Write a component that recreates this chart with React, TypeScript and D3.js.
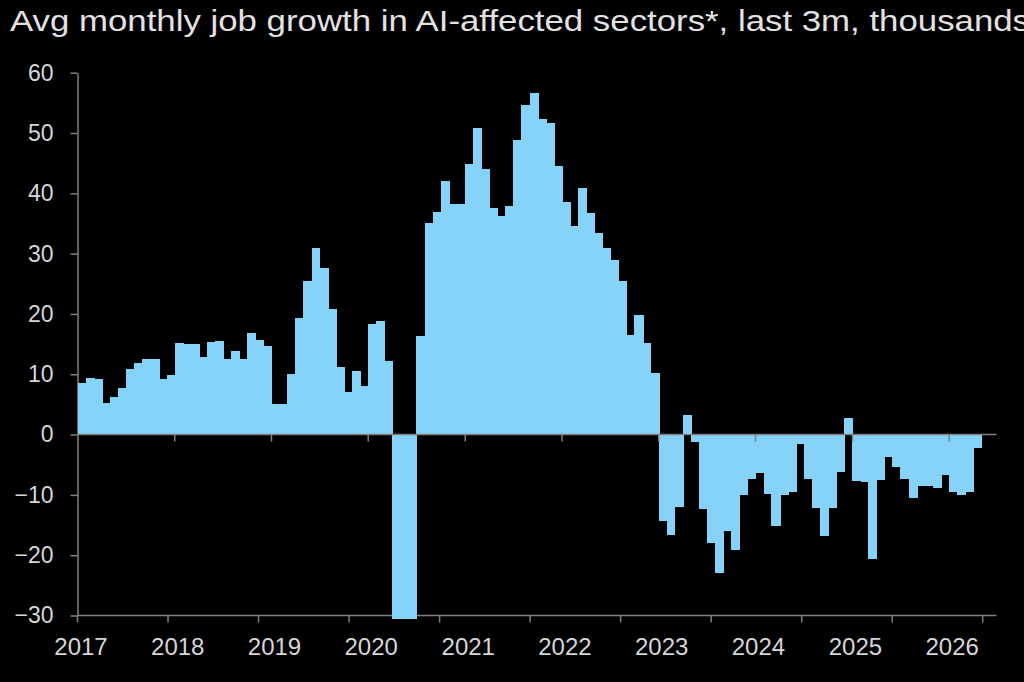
import { useEffect, useRef } from "react";
import * as d3 from "d3";

// 3m avg monthly job growth, thousands, one value per month from Jan 2017
const v2017 = [8.6, 9.3, 9.2, 5.3, 6.2, 7.8, 10.8, 11.9, 12.6, 12.5, 9.2, 9.9];
const v2018 = [15.1, 15.0, 15.0, 12.8, 15.3, 15.5, 12.5, 13.9, 12.6, 16.8, 15.7, 14.7];
const v2019 = [5.1, 5.1, 10.0, 19.3, 25.5, 31.0, 27.7, 20.8, 11.2, 7.0, 10.6, 8.1];
const v2020 = [18.3, 18.8, 12.2, -30.5, -30.5, -30.5, 16.3, 35.1, 36.9, 42.1, 38.3, 38.3];
const v2021 = [44.8, 50.9, 44.1, 37.5, 36.2, 37.9, 48.9, 54.6, 56.7, 52.4, 51.7, 44.5];
const v2022 = [38.6, 34.5, 40.8, 36.8, 33.5, 30.9, 28.9, 25.5, 16.5, 19.9, 15.1, 10.2];
const v2023 = [-14.3, -16.7, -12.0, 3.3, -1.2, -12.3, -17.9, -23.0, -16.0, -19.2, -10.0, -7.4];
const v2024 = [-6.3, -9.8, -15.2, -10.0, -9.5, -1.5, -7.3, -12.1, -16.8, -12.2, -6.2, 2.7];
const v2025 = [-7.7, -7.8, -20.7, -7.5, -3.8, -5.3, -7.4, -10.6, -8.5, -8.5, -8.8, -6.7];
const v2026 = [-9.5, -10.0, -9.5, -2.3];

const yearLabels = ["2017", "2018", "2019", "2020", "2021", "2022", "2023", "2024", "2025", "2026"];
const yTicks = [-30, -20, -10, 0, 10, 20, 30, 40, 50, 60];

const title = "Avg monthly job growth in AI-affected sectors*, last 3m, thousands";

const W = 1024;
const H = 682;
const BAR = "#86d3fa";
const AXIS = "#808080";
const TEXT = "#d6d6d6";
const FONT = "'Liberation Sans', Arial, sans-serif";

export default function App() {
  const ref = useRef<SVGSVGElement>(null);

  useEffect(() => {
    const values = [...v2017, ...v2018, ...v2019, ...v2020, ...v2021, ...v2022, ...v2023, ...v2024, ...v2025, ...v2026];
    const months = values.map((_, i) => new Date(Date.UTC(2017, i, 1)));

    const x = d3
      .scaleUtc() // one year ~96.8px
      .domain([new Date(Date.UTC(2017, 0, 1)), new Date(Date.UTC(2026, 0, 1))])
      .range([78, 949.2]);

    const y = d3.scaleLinear().domain([-30, 60]).range([615.5, 72.7]);

    // bottom axis ticks do not line up with the years in the original
    const bottomTicks = d3.scaleLinear().domain([0, 10]).range([77.5, 982.7]);
    const axisEnd = 996.5;

    const svg = d3.select(ref.current);
    svg.selectAll("*").remove();

    svg.append("rect").attr("width", W).attr("height", H).attr("fill", "#000");

    svg
      .append("text")
      .attr("x", 10)
      .attr("y", 31)
      .attr("fill", "#e2e2e2")
      .style("font-family", FONT)
      .style("font-size", "29px")
      .attr("textLength", 1020)
      .attr("lengthAdjust", "spacingAndGlyphs")
      .text(title);

    // y axis
    const yAxis = svg
      .append("g")
      .attr("transform", `translate(${x.range()[0] - 0.5},0)`)
      .call(d3.axisLeft(y).tickValues(yTicks).tickSize(7).tickPadding(17).tickSizeOuter(0));
    yAxis.select(".domain").attr("stroke", AXIS).attr("stroke-width", 1.5);
    yAxis.selectAll(".tick line").attr("stroke", AXIS).attr("stroke-width", 1.5);
    yAxis
      .selectAll(".tick text")
      .attr("fill", TEXT)
      .style("font-family", FONT)
      .style("font-size", "23px");

    // bottom axis line + its ticks
    const bottom = svg.append("g").attr("stroke", AXIS).attr("stroke-width", 1.5);
    bottom
      .append("line")
      .attr("x1", x.range()[0] - 0.5)
      .attr("x2", axisEnd)
      .attr("y1", y(-30))
      .attr("y2", y(-30));
    bottom
      .selectAll("line.tk")
      .data(bottomTicks.ticks(10))
      .join("line")
      .attr("class", "tk")
      .attr("x1", (d) => bottomTicks(d))
      .attr("x2", (d) => bottomTicks(d))
      .attr("y1", y(-30))
      .attr("y2", y(-30) + 7);

    // monthly bars, stuck together like a step area
    svg
      .append("g")
      .attr("shape-rendering", "crispEdges")
      .selectAll("rect")
      .data(values)
      .join("rect")
      .attr("fill", BAR)
      .attr("x", (_, i) => Math.round(x(months[i])))
      .attr("width", (_, i) => Math.round(x(d3.utcMonth.offset(months[i], 1))) - Math.round(x(months[i])) + 1)
      .attr("y", (d) => Math.min(y(d), y(0)))
      .attr("height", (d) => Math.abs(y(d) - y(0)));

    // zero line with year ticks
    const zero = svg.append("g").attr("stroke", AXIS).attr("stroke-width", 1.5);
    zero
      .append("line")
      .attr("x1", x.range()[0] - 0.5)
      .attr("x2", axisEnd)
      .attr("y1", y(0))
      .attr("y2", y(0));
    zero
      .selectAll("line.tk")
      .data(yearLabels.slice(1))
      .join("line")
      .attr("class", "tk")
      .attr("x1", (d) => x(new Date(Date.UTC(+d, 0, 1))))
      .attr("x2", (d) => x(new Date(Date.UTC(+d, 0, 1))))
      .attr("y1", y(0))
      .attr("y2", y(0) + 7);

    // year labels
    svg
      .append("g")
      .selectAll("text")
      .data(yearLabels)
      .join("text")
      .attr("x", (d) => x(new Date(Date.UTC(+d, 0, 1))) + 3)
      .attr("y", 655)
      .attr("text-anchor", "middle")
      .attr("fill", TEXT)
      .style("font-family", FONT)
      .style("font-size", "24px")
      .text((d) => d);
  }, []);

  return (
    <div style={{ position: "fixed", left: 0, top: 0, width: W, height: H, background: "#000" }}>
      <svg ref={ref} width={W} height={H} style={{ display: "block" }} />
    </div>
  );
}
